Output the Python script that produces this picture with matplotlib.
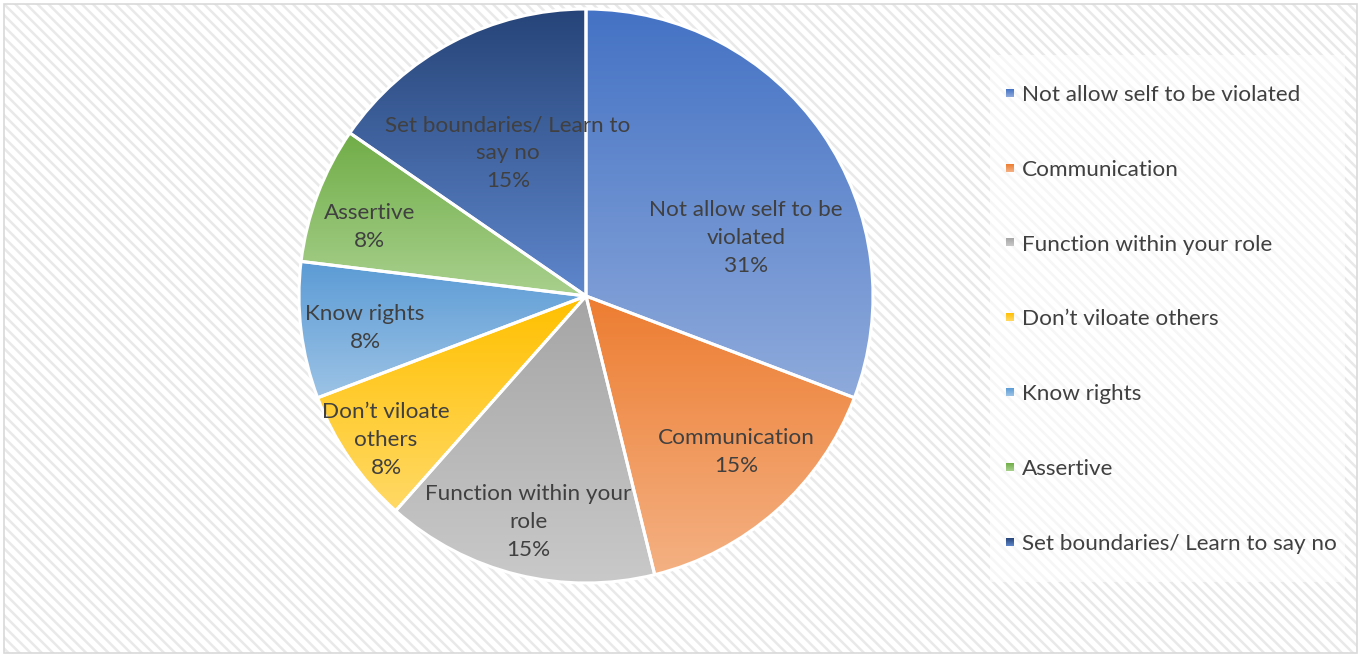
import colorsys
import numpy as np
import matplotlib
matplotlib.use("Agg")
import matplotlib.pyplot as plt
from matplotlib.patches import Rectangle
from matplotlib.colors import to_rgb

# answers counted per category (13 responses)
categories = ["Not allow self to be violated", "Communication", "Function within your role",
              "Don\u2019t viloate others", "Know rights", "Assertive", "Set boundaries/ Learn to say no"]
counts = [4, 2, 2, 1, 1, 1, 2]
# wrapped versions used inside the slices
slice_labels = ["Not allow self to be\nviolated", "Communication", "Function within your\nrole",
                "Don\u2019t viloate\nothers", "Know rights", "Assertive", "Set boundaries/ Learn to\nsay no"]
colors = ["#4472C4", "#ED7D31", "#A5A5A5", "#FFC000", "#5B9BD5", "#70AD47", "#264478"]

# label centres in radius units (best-fit placement)
label_pos = [(0.557, 0.206), (0.523, -0.540), (-0.202, -0.784), (-0.697, -0.498),
             (-0.770, -0.105), (-0.753, 0.244), (-0.272, 0.502)]

W, H = 1362, 655
txt_color = "#404040"
fs = 16.2
plt.rcParams['font.family'] = ['Lato', 'DejaVu Sans']
plt.rcParams['hatch.linewidth'] = 1.8


def lighter(c, amount=0.4):
    h, l, s = colorsys.rgb_to_hls(*to_rgb(c))
    return colorsys.hls_to_rgb(h, l + (1 - l) * amount, s)


def gradient(c, n=256):
    top = np.array(to_rgb(c))
    bot = np.array(lighter(c))
    t = np.linspace(0, 1, n)[:, None]
    return (top * (1 - t) + bot * t)[:, None, :]


fig = plt.figure(figsize=(W / 100, H / 100), dpi=100)

# hatched chart area with thin border
bg = fig.add_axes([0, 0, 1, 1])
bg.set_xlim(0, W)
bg.set_ylim(H, 0)
bg.axis("off")
bg.add_patch(Rectangle((4, 4), 1353, 649, facecolor="white", edgecolor="#e9e9e9",
                       hatch="\\\\\\", linewidth=0))
bg.add_patch(Rectangle((4, 4), 1353, 649, facecolor="none", edgecolor="#d9d9d9", linewidth=1.2))

# legend panel
bg.add_patch(Rectangle((990, 55), 355, 527, facecolor="white", edgecolor="none", alpha=0.6))
for i, (name, c) in enumerate(zip(categories, colors)):
    y = 93 + i * 74.8
    bg.imshow(gradient(c), extent=[1006, 1013.5, y + 3.8, y - 3.8], aspect="auto", zorder=3)
    bg.text(1022, y + 2, name, fontsize=fs, color=txt_color, va="center", ha="left")
bg.set_xlim(0, W)
bg.set_ylim(H, 0)

# pie
cx, cy, r = 586, 296, 287
ax = fig.add_axes([(cx - r) / W, (H - cy - r) / H, 2 * r / W, 2 * r / H])
total = sum(counts)
wedges, _ = ax.pie(counts, colors=colors, startangle=90, counterclock=False, radius=1,
                   wedgeprops=dict(edgecolor="white", linewidth=2.2))
for w, c in zip(wedges, colors):
    ext = w.get_path().get_extents()
    im = ax.imshow(gradient(c), extent=[ext.x0, ext.x1, ext.y0, ext.y1], aspect="auto", zorder=1)
    im.set_clip_path(w)
    w.set_facecolor("none")
    w.set_zorder(2)

for lab, n, (lx, ly) in zip(slice_labels, counts, label_pos):
    ax.text(lx, ly - 0.005, "%s\n%.0f%%" % (lab, 100.0 * n / total), ha="center", va="center",
            fontsize=fs, color=txt_color, linespacing=1.5, zorder=4)
ax.set_xlim(-1, 1)
ax.set_ylim(-1, 1)
ax.set_aspect("equal")
ax.axis("off")

fig.savefig("out.png", dpi=100)
